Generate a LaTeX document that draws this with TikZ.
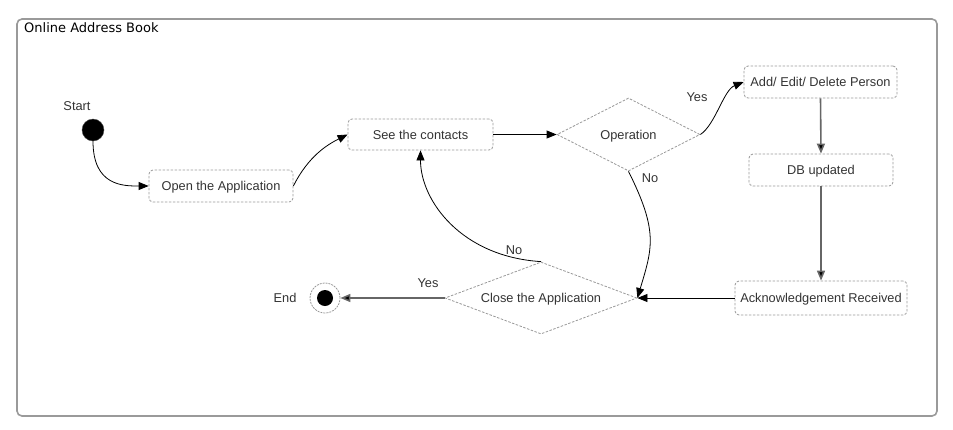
\documentclass[tikz,border=0pt]{standalone}
\usepackage{fontspec}
\setmainfont{Liberation Sans}
\newfontfamily\titlefont{DejaVu Sans}
\usetikzlibrary{shapes.geometric,arrows.meta}
\definecolor{txt}{HTML}{333333}
\definecolor{bord}{HTML}{999999}
\definecolor{frame}{HTML}{9A9A9A}
\begin{document}
\begin{tikzpicture}[x=1pt,y=-1pt,
  every node/.style={font=\fontsize{12.8}{15}\selectfont, text=txt},
  actbox/.style={draw=bord, dashed, dash pattern=on 2.5pt off 1.5pt, line width=0.8pt, rounded corners=4pt, inner sep=0pt, text depth=0pt},
  decis/.style={draw=bord, dashed, dash pattern=on 2.5pt off 1.5pt, line width=0.8pt, diamond, inner sep=0pt, text depth=0pt},
  arr/.style={draw=black, line width=0.8pt, -{Triangle[length=10pt,width=8pt]}},
  garr/.style={draw=black!60, line width=1.6pt, -{Triangle[length=10pt,width=8pt,fill=black]}},
  lbl/.style={inner sep=0pt}]
\useasboundingbox (0,0) rectangle (953,429);
\draw[frame, line width=1.6pt, rounded corners=5pt] (17,19) rectangle (937,416);
\node[lbl, anchor=north west, font=\titlefont\fontsize{13}{15}\selectfont, text=black] (title) at (24,22) {Online Address Book};

\node[circle, fill=black, draw=black!70, minimum size=22pt, inner sep=0pt] (start) at (93,130) {};
\node[lbl] (startlbl) at (77,106) {Start};

\node[actbox, minimum width=144pt, minimum height=32pt] (open) at (221,186) {Open the Application};
\node[actbox, minimum width=145pt, minimum height=31pt] (see) at (420.5,134.5) {See the contacts};
\node[decis, aspect=1.96, minimum width=143pt, minimum height=73pt] (oper) at (628.5,134.5) {Operation};
\node[actbox, minimum width=153pt, minimum height=32pt] (add) at (820.5,82) {Add/ Edit/ Delete Person};
\node[actbox, minimum width=144pt, minimum height=32pt] (db) at (821,170) {DB updated};
\node[actbox, minimum width=172pt, minimum height=34pt] (ack) at (821,298) {Acknowledgement Received};
\node[decis, aspect=2.67, minimum width=192pt, minimum height=72pt] (close) at (541,298) {Close the Application};

\node[circle, draw=bord, dashed, dash pattern=on 2pt off 1pt, line width=0.8pt, minimum size=30pt, inner sep=0pt] (end) at (325,298) {};
\node[circle, fill=black, minimum size=16pt, inner sep=0pt] (endin) at (end.center) {};
\node[lbl] (endlbl) at (285,298) {End};

\draw[arr] (start.south) .. controls +(0,45) and +(-25,0) .. (open.west);
\draw[arr] (open.east) .. controls +(15,-30) and +(-20,10) .. (see.west);
\draw[arr] (see.east) -- (oper.west);
\draw[arr] (oper.east) .. controls +(15,-10) and +(-20,8) .. (add.west);
\node[lbl] (yes1) at (697,97) {Yes};
\draw[garr] (add.south) -- (db.north);
\draw[garr] (db.south) -- (ack.north);
\draw[arr] (ack.west) -- (close.east);
\draw[arr] (oper.south) .. controls +(30,60) and +(15,-50) .. (close.east);
\node[lbl] (no1) at (650,178) {No};
\draw[arr] (close.north) .. controls +(-80,-5) and +(0,50) .. (see.south);
\node[lbl] (no2) at (514,250) {No};
\draw[garr] (close.west) -- (end.east);
\node[lbl] (yes2) at (428,283) {Yes};
\end{tikzpicture}
\end{document}
